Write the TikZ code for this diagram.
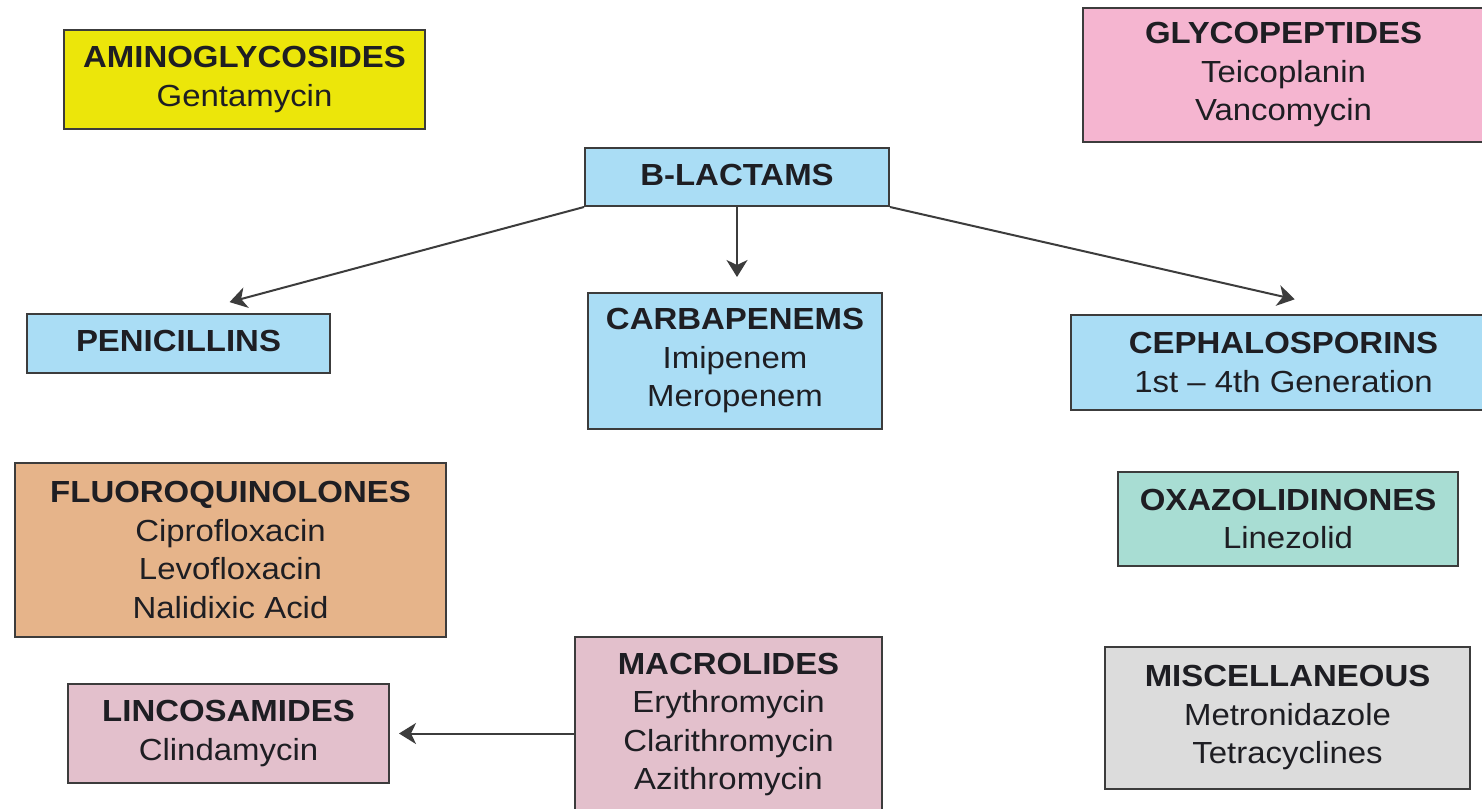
\documentclass[tikz,border=0pt]{standalone}
\usepackage{fontspec}
\setmainfont{Liberation Sans}[FakeStretch=1.08]
\usetikzlibrary{arrows.meta,calc}
\definecolor{cyel}{RGB}{236,230,10}
\definecolor{cpink}{RGB}{245,181,208}
\definecolor{cblue}{RGB}{170,221,245}
\definecolor{corange}{RGB}{230,180,138}
\definecolor{cteal}{RGB}{168,221,211}
\definecolor{cgray}{RGB}{220,220,220}
\definecolor{cmauve}{RGB}{227,192,204}
\definecolor{cline}{RGB}{60,60,60}
\definecolor{ctext}{RGB}{30,30,35}
\tikzset{
  box/.style={draw=cline, line width=2pt, rectangle, inner sep=0pt, align=center,
    text=ctext, font=\fontsize{30.5}{38.5}\selectfont},
  arr/.style={draw=cline, line width=2pt, -{Stealth[length=17pt,width=21pt,inset=5pt]}}
}
\begin{document}
\begin{tikzpicture}[x=1pt,y=-1pt]
\useasboundingbox (0,0) rectangle (1482,808);
\clip (0,0) rectangle (1482,808);
\fill[white] (0,0) rectangle (1482,808);

\node[box, fill=cyel, minimum width=361pt, minimum height=99pt] (amino) at (244.5,79.5)
  {\textbf{AMINOGLYCOSIDES}\\Gentamycin};
\node[box, fill=cpink, minimum width=401pt, minimum height=134pt] (glyco) at (1283.5,75)
  {\textbf{GLYCOPEPTIDES}\\Teicoplanin\\Vancomycin};
\node[box, fill=cblue, minimum width=304pt, minimum height=58pt] (blact) at (737,177)
  {\raisebox{5pt}{\textbf{B-LACTAMS}}};
\node[box, fill=cblue, minimum width=303pt, minimum height=59pt] (penic) at (178.5,343.5)
  {\raisebox{5pt}{\textbf{PENICILLINS}}};
\node[box, fill=cblue, minimum width=294pt, minimum height=136pt] (carba) at (735,361)
  {\textbf{CARBAPENEMS}\\Imipenem\\Meropenem};
\node[box, fill=cblue, minimum width=413pt, minimum height=95pt] (ceph) at (1277.5,362.5)
  {\hspace*{12pt}\textbf{CEPHALOSPORINS}\\\hspace*{12pt}1st -- 4th Generation};
\node[box, fill=corange, minimum width=431pt, minimum height=174pt] (fluoro) at (230.5,550)
  {\textbf{FLUOROQUINOLONES}\\Ciprofloxacin\\Levofloxacin\\Nalidixic Acid};
\node[box, fill=cteal, minimum width=340pt, minimum height=94pt] (oxa) at (1288,519)
  {\textbf{OXAZOLIDINONES}\\Linezolid};
\node[box, fill=cgray, minimum width=365pt, minimum height=142pt] (misc) at (1287.5,718)
  {\textbf{MISCELLANEOUS}\\Metronidazole\\Tetracyclines};
\node[box, fill=cmauve, minimum width=321pt, minimum height=99pt] (linco) at (228.5,733.5)
  {\textbf{LINCOSAMIDES}\\Clindamycin};
\node[box, fill=cmauve, minimum width=307pt, minimum height=175pt] (macro) at (728.5,724.5)
  {\textbf{MACROLIDES}\\Erythromycin\\Clarithromycin\\Azithromycin};

\draw[arr, shorten >=42pt] (blact.south west) -- ($(penic.north west)+(163,0)$);
\draw[arr, shorten >=15pt] (blact.south) -- (blact.south |- carba.north);
\draw[arr, shorten >=66pt] (blact.south east) -- ($(ceph.north west)+(289,0)$);
\draw[arr, shorten >=9pt] (macro.west |- linco.east) -- (linco.east);
\end{tikzpicture}
\end{document}
